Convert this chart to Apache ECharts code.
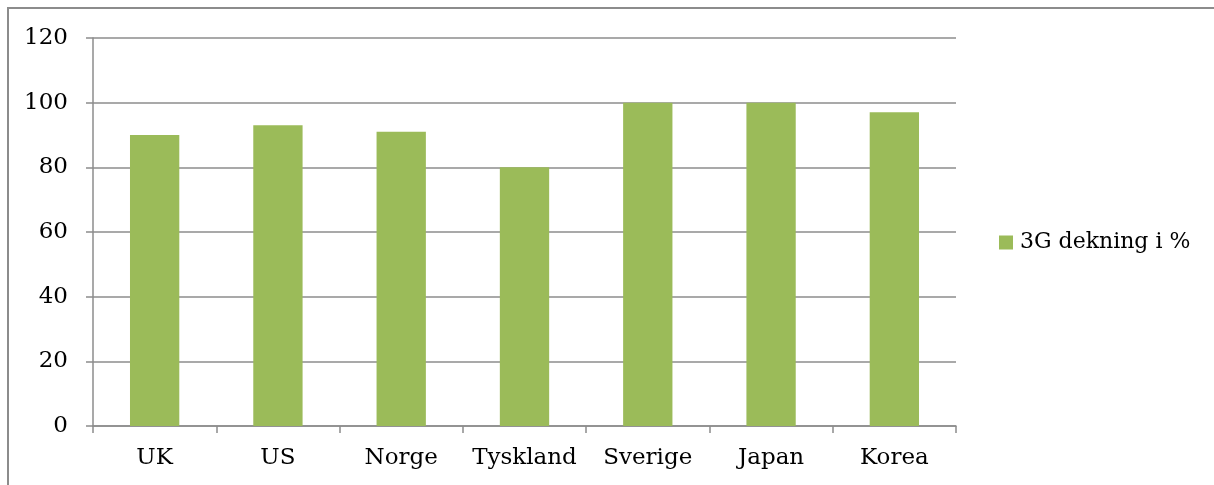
<!DOCTYPE html>
<html>
<head>
<meta charset="utf-8">
<script src="https://cdn.jsdelivr.net/npm/echarts@6/dist/echarts.min.js"></script>
<style>
  html, body { margin: 0; padding: 0; background: #fff; }
  #chart { width: 1214px; height: 485px; }
</style>
</head>
<body>
<div id="chart"></div>
<script>
// 3G coverage per country (percent)
const countries = ['UK', 'US', 'Norge', 'Tyskland', 'Sverige', 'Japan', 'Korea'];
const coverage = [90, 93, 91, 80, 100, 100, 97];
const seriesName = '3G dekning i %';
const yTicks = { min: 0, max: 120, interval: 20 };

const FONT = 'DejaVu Serif';
const LINE = '#8c8c8c';
const chart = echarts.init(document.getElementById('chart'), null, { renderer: 'canvas' });

chart.setOption({
  backgroundColor: '#fff',
  animation: false,
  textStyle: { fontFamily: FONT },
  graphic: [{
    type: 'rect',
    shape: { x: 8, y: 8, width: 1230, height: 500 },
    style: { fill: 'none', stroke: '#8c8c8c', lineWidth: 2 },
    silent: true
  }],
  grid: { left: 93, right: 258, top: 38, bottom: 59, containLabel: false },
  legend: {
    data: [seriesName],
    left: 999,
    top: 'middle',
    padding: 0,
    icon: 'rect',
    itemWidth: 14,
    itemHeight: 14,
    itemGap: 4,
    textStyle: { fontFamily: FONT, fontSize: 22, color: '#000', padding: [0, 0, 0, 2] }
  },
  xAxis: {
    type: 'category',
    data: countries,
    axisLine: { lineStyle: { color: LINE, width: 1.5 } },
    axisTick: { show: true, interval: 0, length: 7, lineStyle: { color: LINE, width: 1.5 } },
    axisLabel: { interval: 0, fontFamily: FONT, fontSize: 23, color: '#000', margin: 21 }
  },
  yAxis: {
    type: 'value',
    min: yTicks.min,
    max: yTicks.max,
    interval: yTicks.interval,
    axisLine: { show: true, lineStyle: { color: LINE, width: 1.5 } },
    axisTick: { show: true, length: 7, lineStyle: { color: LINE, width: 1.5 } },
    splitLine: { show: true, lineStyle: { color: LINE, width: 1.5 } },
    axisLabel: { fontFamily: FONT, fontSize: 23, color: '#000', margin: 25 }
  },
  series: [{
    name: seriesName,
    type: 'bar',
    data: coverage,
    barWidth: '40%',
    itemStyle: { color: '#9bbb59' }
  }]
});
</script>
</body>
</html>
